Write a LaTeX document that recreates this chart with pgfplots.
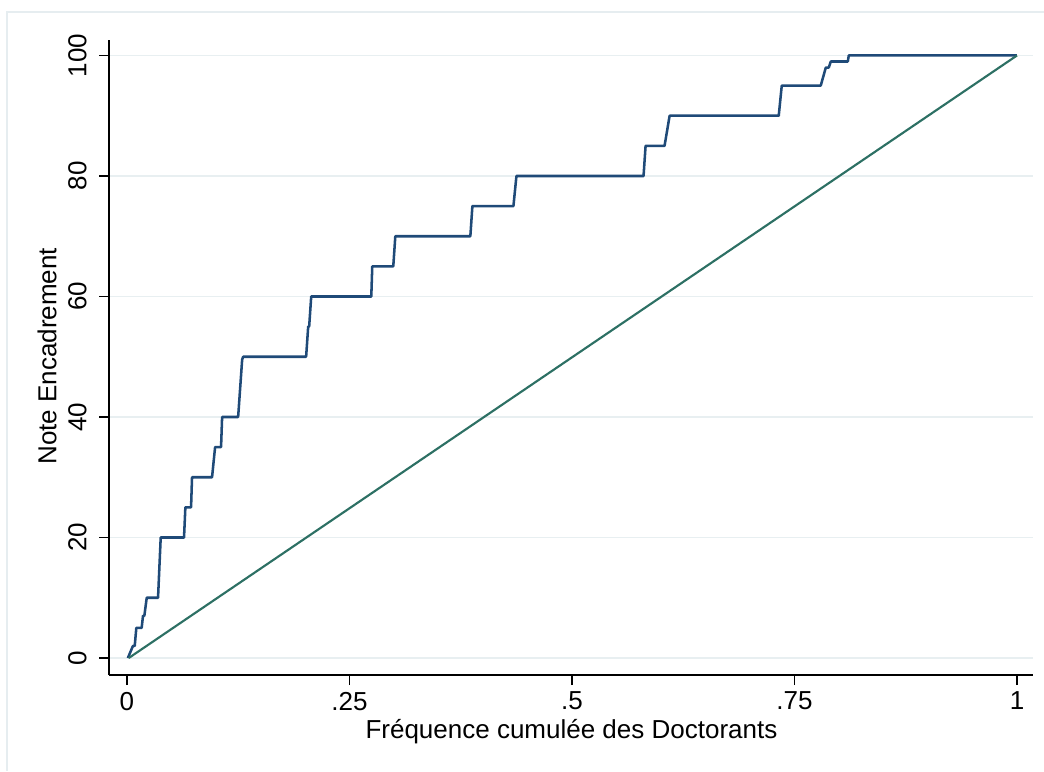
\documentclass[border=0pt]{standalone}
\usepackage{fontspec}
\setmainfont{Liberation Sans}
\usepackage{pgfplots}
\pgfplotsset{compat=1.18}

\definecolor{stepblue}{HTML}{1F4A78}
\definecolor{diagteal}{HTML}{2D7064}
\definecolor{gridc}{HTML}{E8EFF1}
\definecolor{framec}{HTML}{E6EDF0}

\begin{document}
\begin{tikzpicture}
% outer graph-region frame
\draw[framec, line width=1pt] (5.25pt,0pt) -- (5.25pt,569.25pt) -- (783pt,569.25pt);
\begin{axis}[
  at={(81.75pt,72pt)}, anchor=south west,
  scale only axis, width=693pt, height=476.25pt,
  xmin=-0.0202, xmax=1.018,
  ymin=-2.82, ymax=102.57,
  axis x line*=bottom, axis y line*=left,
  axis line style={black, line width=1.1pt, -},
  font=\fontsize{19.5}{22}\selectfont,
  /pgf/number format/assume math mode=true,
  xtick={0,0.25,0.5,0.75,1},
  xticklabels={0,.25,.5,.75,1},
  ytick={0,20,40,60,80,100},
  yticklabels={0,20,40,60,80,100},
  tick align=outside,
  major tick length=7.5pt,
  tick style={black, line width=1.1pt},
  xticklabel style={anchor=north, inner xsep=0pt, inner ysep=5pt},
  yticklabel style={rotate=90, anchor=south, inner xsep=0pt, inner ysep=9pt},
  ymajorgrids, xmajorgrids=false,
  major grid style={gridc, line width=1.3pt},
  xlabel={Fréquence cumulée des Doctorants},
  ylabel={Note Encadrement},
  xlabel style={at={(axis description cs:0.5005,-0.0898)}, anchor=center, inner sep=0pt},
  ylabel style={at={(axis description cs:-0.0671,0.502)}, anchor=center, inner sep=0pt},
  clip=false,
]
% concentration curve
\addplot[stepblue, line width=1.9pt, line join=round] coordinates {
(0.001,0) (0.0067,2) (0.0087,2) (0.0105,5) (0.0165,5) (0.018,7) (0.0195,7)
(0.0222,10) (0.0349,10) (0.0379,20) (0.0641,20) (0.0656,25) (0.0720,25)
(0.0731,30) (0.0956,30) (0.0990,35) (0.1057,35) (0.1069,40) (0.1249,40)
(0.1294,49.5) (0.1305,50) (0.2013,50) (0.2036,55) (0.2047,55) (0.2070,60)
(0.2745,60) (0.2756,65) (0.2992,65) (0.3015,70) (0.3858,70) (0.3881,75)
(0.4342,75) (0.4376,80) (0.5804,80) (0.5827,85) (0.6040,85) (0.6097,90)
(0.7323,90) (0.7357,95) (0.7795,95) (0.7852,98) (0.7885,98) (0.7908,99)
(0.8099,99) (0.8110,100) (1.0000,100)
};
% line of equality
\addplot[diagteal, line width=1.6pt] coordinates {(0.002,0) (1,100)};
\end{axis}
\pgfresetboundingbox
\path[use as bounding box] (0,0) rectangle (783pt,578.25pt);
\end{tikzpicture}
\end{document}
